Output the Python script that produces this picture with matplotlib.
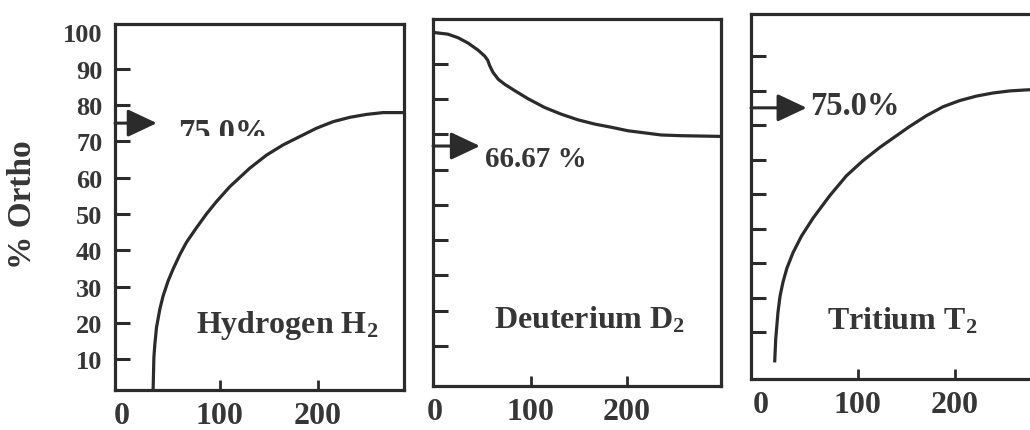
import matplotlib
matplotlib.use("Agg")
import matplotlib.pyplot as plt
from matplotlib.transforms import Bbox, TransformedBbox

# colores y fuente (imagen escaneada, tipo Times en negrita)
tinta = "#2b2b2b"
texto = "#363636"
plt.rcParams['font.family'] = ['Liberation Serif', 'DejaVu Serif']
plt.rcParams['font.weight'] = 'bold'
plt.rcParams['mathtext.fontset'] = 'custom'
plt.rcParams['mathtext.rm'] = 'Liberation Serif:bold'
plt.rcParams['mathtext.it'] = 'Liberation Serif:bold:italic'
plt.rcParams['mathtext.bf'] = 'Liberation Serif:bold'

# datos: temperatura (K) y % orto
t_h2 = [31.9, 32.7, 33.7, 35.4, 38.8, 42.1, 47.3, 52.3, 59.2, 66, 76.2, 86.4, 96.6,
        110.2, 130.6, 147.7, 164.6, 181.6, 198.7, 215.6, 232.7, 249.7, 266.6, 288]
orto_h2 = [1.5, 10.5, 14.2, 18.8, 23.8, 27.4, 31.6, 34.8, 38.8, 42.2, 46.2, 50.0, 53.4,
           57.5, 62.6, 66.2, 69, 71.3, 73.6, 75.4, 76.6, 77.4, 77.9, 77.9]

t_d2 = [-2, 13.5, 24, 34.4, 44.8, 51.8, 55, 57, 60.4, 66, 72.6, 83, 96.9, 114.3, 131.6,
        149, 166.4, 183.6, 201, 218.4, 235.7, 256.6, 298]
orto_d2 = [98.9, 98.4, 97.4, 95.9, 93.9, 92.2, 91.0, 89.5, 87.6, 85.6, 84.2, 82.4, 80.1,
           77.6, 75.7, 74.1, 72.9, 72, 71, 70.4, 69.8, 69.6, 69.4]

t_t2 = [14.4, 15.5, 17.8, 20, 23, 27, 33.3, 42, 53.9, 71.1, 88.4, 105.5, 122.7, 139.9,
        153.6, 170.8, 187.9, 205.2, 222.4, 239.5, 256.7, 273.9, 290]
orto_t2 = [1.2, 8, 15.7, 20.5, 24.5, 28.5, 33, 37.8, 43, 49.5, 55.3, 59.7, 63.5, 66.9,
           69.6, 72.7, 75.3, 77.1, 78.4, 79.3, 79.9, 80.2, 80.4]

nombres = ['Hydrogen H$_2$', 'Deuterium D$_2$', 'Tritium T$_2$']
limite = [75.0, 66.67, 75.0]
etiquetas_limite = ['75.0%', '66.67 %', '75.0%']

yticks = [10, 20, 30, 40, 50, 60, 70, 80, 90, 100]
xticks = [0, 100, 200]

fig = plt.figure(figsize=(10.3, 4.31), dpi=100)

# posiciones de los tres paneles (medidas en pixeles de la imagen)
cajas = [(115, 25, 404, 391), (433, 20, 721, 387), (751, 15, 1039, 380)]
xlims = [(-7, 288), (-2, 298), (-10, 287)]
ylims = [(1.5, 102.3), (-1.4, 102.7), (-3.6, 102.2)]
curvas = [(t_h2, orto_h2), (t_d2, orto_d2), (t_t2, orto_t2)]
punta = [35.7, 46.9, 47.4]
pos_lim = [(57, 70), (52, 61), (50.5, 73.2)]
tam_lim = [23.5, 21, 23.5]
pos_nombre = [(169, 17.4), (161, 15.3), (146, 10.9)]

W, H = 1030, 431
for i in range(3):
    x0, y0, x1, y1 = cajas[i]
    ax = fig.add_axes([x0 / W, 1 - y1 / H, (x1 - x0) / W, (y1 - y0) / H])
    ax.set_xlim(*xlims[i])
    ax.set_ylim(*ylims[i])
    for s in ax.spines.values():
        s.set_linewidth(2.3)
        s.set_color(tinta)

    tx, ty = curvas[i]
    ax.plot(tx, ty, color=tinta, lw=2.3, solid_joinstyle='round', solid_capstyle='butt')

    # ejes
    ax.set_yticks(yticks)
    if i == 0:
        ax.set_yticklabels([str(v) for v in yticks])
    else:
        ax.set_yticklabels([])
    ax.yaxis.get_major_ticks()[-1].tick1line.set_visible(False)
    ax.tick_params(axis='y', direction='in', length=11, width=2.2, color=tinta,
                   labelsize=19, labelcolor=texto, pad=9)
    ax.set_xticks(xticks)
    ax.set_xticklabels([str(v) for v in xticks])
    ax.xaxis.get_major_ticks()[0].tick1line.set_visible(False)
    ax.tick_params(axis='x', direction='in', length=7, width=2.0, color=tinta,
                   labelsize=23, labelcolor=texto, pad=8)

    # flecha del valor limite
    ax.annotate('', xy=(punta[i], limite[i]), xytext=(xlims[i][0], limite[i]),
                arrowprops=dict(arrowstyle='-|>,head_length=18,head_width=8.5',
                                mutation_scale=1, lw=2.2, color=tinta,
                                shrinkA=0, shrinkB=0))
    lx, ly = pos_lim[i]
    t = ax.text(lx, ly, etiquetas_limite[i], fontsize=tam_lim[i], color=texto,
                ha='left', va='baseline')
    if i == 0:
        # en el original la parte baja del texto esta tapada
        t.set_clip_on(True)
        t.set_clip_box(TransformedBbox(Bbox([[xlims[0][0], 71.4], [xlims[0][1], 102]]),
                                       ax.transData))

    nx, ny = pos_nombre[i]
    ax.text(nx, ny, nombres[i], fontsize=23, color=texto, ha='center', va='baseline')

fig.text(23 / W, 1 - 205 / H, '% Ortho', rotation=90, fontsize=24, color=texto,
         ha='center', va='center')

fig.savefig('out.png', dpi=100)
